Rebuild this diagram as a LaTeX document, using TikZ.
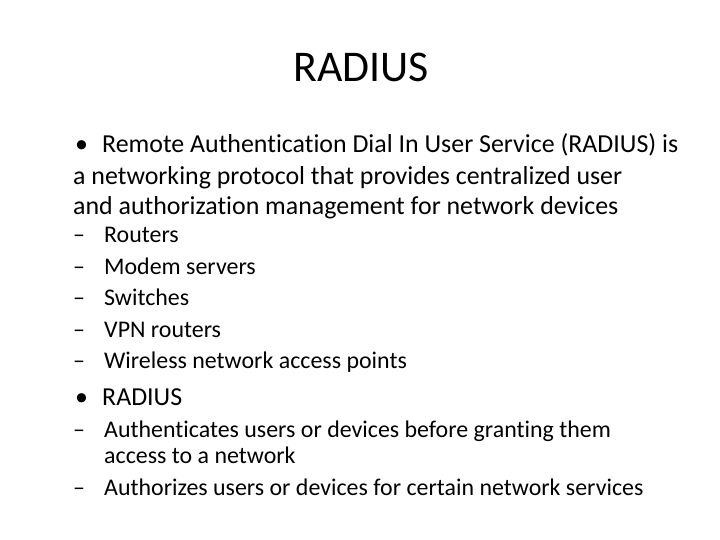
\documentclass[tikz,border=0pt]{standalone}
\usepackage{fontspec}
\setmainfont[Ligatures={NoCommon}]{Carlito}
\begin{document}
\begin{tikzpicture}[x=1bp,y=-1bp,
  t/.style={anchor=base west,inner sep=0pt,font=\fontsize{26}{30}\selectfont},
  s/.style={anchor=base west,inner sep=0pt,font=\fontsize{24}{28}\selectfont}]
\fill[white] (0,0) rectangle (720,540);
\node[anchor=base,inner sep=0pt,font=\fontsize{44}{48}\selectfont] (title) at (361,82) {RADIUS};
\node[t] (b1) at (75,153) {•};
\node[t] (l1) at (102,153) {Remote Authentication Dial In User Service (RADIUS) is};
\node[t] (l2) at (73,185) {a networking protocol that provides centralized user};
\node[t] (l3) at (73,215) {and authorization management for network devices};
\node[s] (d1) at (73,243) {–}; \node[s] (s1) at (104,243) {Routers};
\node[s] (d2) at (73,275) {–}; \node[s] (s2) at (104,275) {Modem servers};
\node[s] (d3) at (73,305) {–}; \node[s] (s3) at (104,305) {Switches};
\node[s] (d4) at (73,337) {–}; \node[s] (s4) at (104,337) {VPN routers};
\node[s] (d5) at (73,368) {–}; \node[s] (s5) at (104,368) {Wireless network access points};
\node[t] (b2) at (75,405) {•};
\node[t] (r) at (102,405) {RADIUS};
\node[s] (d6) at (73,437) {–}; \node[s] (u1) at (104,437) {Authenticates users or devices before granting them};
\node[s] (u1b) at (104,463) {access to a network};
\node[s] (d7) at (73,495) {–}; \node[s] (u2) at (104,495) {Authorizes users or devices for certain network services};
\end{tikzpicture}
\end{document}
